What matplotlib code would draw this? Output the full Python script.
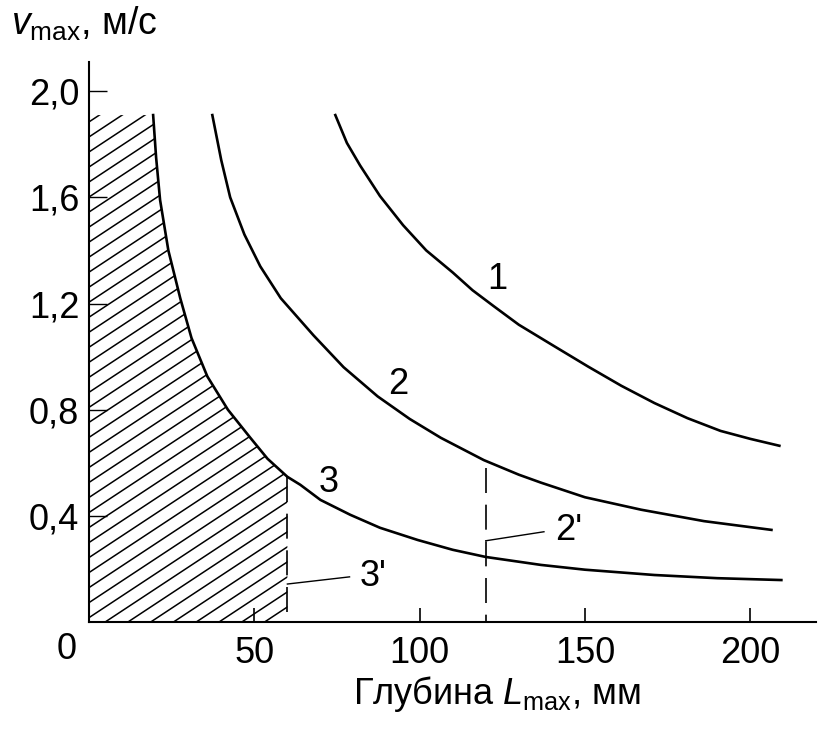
import numpy as np
import matplotlib
matplotlib.use("Agg")
import matplotlib.pyplot as plt
from matplotlib.patches import Polygon

plt.rcParams['font.family'] = ['Liberation Sans', 'DejaVu Sans']
plt.rcParams['mathtext.fontset'] = 'custom'
plt.rcParams['mathtext.rm'] = 'Liberation Sans'
plt.rcParams['mathtext.it'] = 'Liberation Sans:italic'

# curve 1
L1 = [74.5, 78, 82, 88, 95, 102, 110, 116, 122.4, 130, 140.6, 151, 161, 171, 181, 191, 200, 208.8]
v1 = [1.91, 1.805, 1.72, 1.605, 1.495, 1.40, 1.317, 1.25, 1.19, 1.12, 1.04, 0.962, 0.89, 0.825,
      0.768, 0.72, 0.69, 0.664]
# curve 2
L2 = [37.3, 40, 42.7, 47, 51.8, 58, 67.9, 77, 87.3, 97, 106.4, 119.4, 130, 136.7, 150, 167, 186, 206.4]
v2 = [1.91, 1.74, 1.60, 1.46, 1.34, 1.22, 1.08, 0.96, 0.85, 0.765, 0.694, 0.61, 0.555, 0.525,
      0.47, 0.423, 0.38, 0.347]
# curve 3 (boundary of hatched zone)
L3 = [19.4, 20.3, 21.5, 24, 27.6, 31, 35.8, 42, 48.8, 54, 60, 63.9, 70, 79, 88, 99.4, 110, 120,
      136.7, 150, 171, 190, 209.4]
v3 = [1.91, 1.75, 1.59, 1.40, 1.22, 1.07, 0.925, 0.80, 0.694, 0.615, 0.547, 0.517, 0.46, 0.404,
      0.355, 0.309, 0.272, 0.245, 0.215, 0.197, 0.177, 0.165, 0.158]

# dashed limits 2' and 3'
mark_L = [120, 60]
mark_top = [0.58, 0.547]

xticks = [50, 100, 150, 200]
yticks = [0.4, 0.8, 1.2, 1.6, 2.0]
ytick_labels = ['0,4', '0,8', '1,2', '1,6', '2,0']

fig = plt.figure(figsize=(8.21, 7.32), dpi=100)
ax = fig.add_axes([0.1084, 0.1503, 0.886, 0.765])
ax.set_xlim(0, 220)
ax.set_ylim(0, 2.11)

lw = 1.9
ax.plot(L1, v1, color='black', lw=lw, solid_joinstyle='round')
ax.plot(L2, v2, color='black', lw=lw, solid_joinstyle='round')
ax.plot(L3, v3, color='black', lw=lw, solid_joinstyle='round')

# hatched zone left of curve 3 up to L = 60
n_in = L3.index(60) + 1
poly_xy = [(0, 0), (0, v3[0])] + list(zip(L3[:n_in], v3[:n_in])) + [(60, 0)]
clip = Polygon(poly_xy, closed=True, facecolor='none', edgecolor='none')
ax.add_patch(clip)
k = 0.66 * 3.3 / 265.0          # hatch slope in data units
step = 15.0 / 265.0
hx = np.array([0, 60])
for y0 in np.arange(-k * 60, v3[0] + step, step):
    ln, = ax.plot(hx, y0 + k * hx, color='black', lw=1.1)
    ln.set_clip_path(clip)

for xm, top in zip(mark_L, mark_top):
    ax.plot([xm, xm], [top, 0], color='black', lw=1.2, dashes=(15, 7))

# leaders and labels
ax.plot([120, 137.6], [0.306, 0.34], color='black', lw=1.0)
ax.plot([60, 78.8], [0.143, 0.17], color='black', lw=1.0)
fs = 26
ax.text(141, 0.345, "2'", fontsize=fs, va='center', ha='left')
ax.text(82, 0.172, "3'", fontsize=fs, va='center', ha='left')
ax.text(123.6, 1.29, '1', fontsize=fs, va='center', ha='center')
ax.text(93.6, 0.894, '2', fontsize=fs, va='center', ha='center')
ax.text(72.4, 0.525, '3', fontsize=fs, va='center', ha='center')

for s in ['top', 'right']:
    ax.spines[s].set_visible(False)
for s in ['left', 'bottom']:
    ax.spines[s].set_linewidth(1.5)

ax.set_xticks(xticks)
ax.set_xticklabels([str(t) for t in xticks])
ax.set_yticks(yticks)
ax.set_yticklabels(ytick_labels)
ax.tick_params(axis='x', direction='in', length=10, width=1.2, pad=10, labelsize=fs)
ax.tick_params(axis='y', direction='in', length=13, width=1.0, pad=7, labelsize=fs)
ax.annotate('0', xy=(0, 0), xytext=(-16, -20), textcoords='offset points',
            fontsize=fs, ha='center', va='center', annotation_clip=False)

ax.set_xlabel('Глубина $L_{\\mathrm{max}}$, мм', fontsize=fs)
ax.xaxis.set_label_coords(0.561, -0.093)
fig.text(0.013, 0.968, '$v_{\\mathrm{max}}$, м/с', fontsize=27, ha='left', va='center')

fig.savefig('out.png', dpi=100)
